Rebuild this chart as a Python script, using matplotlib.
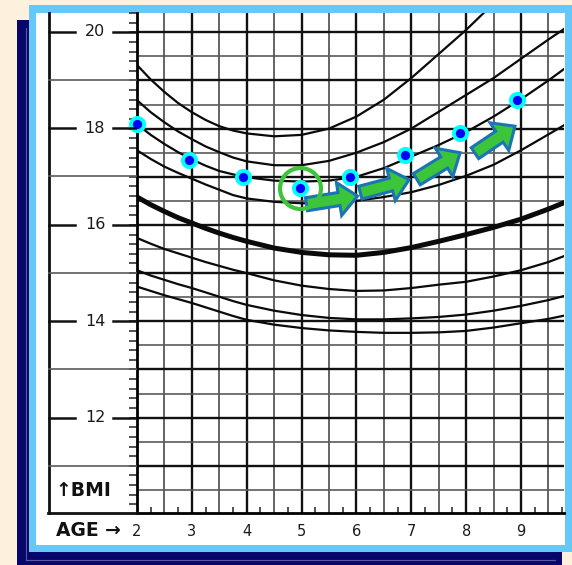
import numpy as np
import matplotlib
matplotlib.use("Agg")
import matplotlib.pyplot as plt
from matplotlib.patches import Rectangle
from matplotlib.lines import Line2D

# ---------------- data ----------------
curve_ages = [2.0, 2.25, 2.5, 2.75, 3.0, 3.25, 3.5, 3.75, 4.0, 4.5, 5.0, 5.5, 6.0, 6.5,
              7.0, 7.5, 8.0, 8.5, 9.0, 9.5, 9.8]
curve_top  = [19.32, 19.02, 18.76, 18.53, 18.34, 18.18, 18.05, 17.96, 17.90, 17.84, 17.87, 18.00, 18.25, 18.60,
              19.05, 19.55, 20.05, 20.60, 21.20, 21.80, 22.20]
curve_2    = [18.59, 18.34, 18.13, 17.94, 17.78, 17.63, 17.51, 17.40, 17.32, 17.24, 17.24, 17.33, 17.50, 17.72,
              18.00, 18.35, 18.70, 19.05, 19.45, 19.85, 20.08]
curve_3    = [18.09, 17.87, 17.68, 17.51, 17.36, 17.23, 17.12, 17.05, 16.99, 16.92, 16.90, 16.92, 17.00, 17.18,
              17.42, 17.66, 17.93, 18.25, 18.61, 19.00, 19.25]
curve_4    = [17.55, 17.37, 17.21, 17.08, 16.96, 16.84, 16.73, 16.62, 16.55, 16.48, 16.45, 16.45, 16.50, 16.58,
              16.68, 16.83, 17.02, 17.25, 17.55, 17.88, 18.08]
curve_mid  = [16.58, 16.42, 16.28, 16.15, 16.04, 15.93, 15.83, 15.74, 15.66, 15.52, 15.43, 15.38, 15.37, 15.43,
              15.53, 15.66, 15.80, 15.95, 16.12, 16.33, 16.47]
curve_a    = [15.73, 15.61, 15.50, 15.41, 15.32, 15.23, 15.15, 15.07, 15.00, 14.85, 14.74, 14.67, 14.63, 14.64,
              14.69, 14.76, 14.82, 14.93, 15.06, 15.23, 15.36]
curve_b    = [15.06, 14.95, 14.86, 14.77, 14.69, 14.60, 14.51, 14.42, 14.34, 14.22, 14.13, 14.07, 14.04, 14.04,
              14.06, 14.09, 14.14, 14.22, 14.32, 14.44, 14.53]
curve_c    = [14.72, 14.63, 14.54, 14.46, 14.38, 14.29, 14.20, 14.11, 14.03, 13.93, 13.86, 13.81, 13.78, 13.76,
              13.76, 13.77, 13.80, 13.87, 13.96, 14.05, 14.12]

point_age = [2.0, 2.95, 3.93, 4.98, 5.88, 6.88, 7.89, 8.92]
point_bmi = [18.09, 17.34, 16.99, 16.76, 16.99, 17.45, 17.90, 18.59]
highlight_index = 3

arrow_tail_age = [5.09, 6.07, 7.10, 8.16]
arrow_tail_bmi = [16.43, 16.67, 16.95, 17.49]
arrow_tip_age  = [6.02, 6.96, 7.89, 8.89]
arrow_tip_bmi  = [16.60, 16.94, 17.50, 18.05]

x_ticks = [2, 3, 4, 5, 6, 7, 8, 9]
x_tick_labels = ["2", "3", "4", "5", "6", "7", "8", "9"]
y_labels_vals = [12, 14, 16, 18, 20]
y_labels_text = ["12", "14", "16", "18", "20"]

# ---------------- figure ----------------
W, H = 572, 565
fig = plt.figure(figsize=(W / 100, H / 100), dpi=100)
fig.patch.set_facecolor("#FDF0DC")

def rect(x0, y0, x1, y1, color, z):
    fig.add_artist(Rectangle((x0 / W, 1 - y1 / H), (x1 - x0) / W, (y1 - y0) / H,
                             transform=fig.transFigure, facecolor=color,
                             edgecolor="none", zorder=z))

rect(17, 20, 562, 570, "#07076B", 0)
fig.add_artist(Line2D([25.5 / W, 25.5 / W], [1 - 28 / H, 1 - 560 / H],
                      transform=fig.transFigure, color="#5A5A9A", lw=0.8, zorder=0.5))
fig.add_artist(Line2D([25.5 / W, 555 / W], [1 - 560 / H, 1 - 560 / H],
                      transform=fig.transFigure, color="#5A5A9A", lw=0.8, zorder=0.5))
rect(29, 5, 580, 552, "#66C8F8", 1)
rect(36, 13, 565, 545, "#FFFFFF", 2)

# main plot axes
px_left, px_right, px_top, px_bot = 137, 564, 13, 513
ax = fig.add_axes([px_left / W, 1 - px_bot / H, (px_right - px_left) / W, (px_bot - px_top) / H])
ax.set_zorder(3)
ax.patch.set_alpha(0)
ax.set_xlim(2.0, 2.0 + (px_right - px_left) / 54.86)
ax.set_ylim(10.02, 20.39)

# grid
for v in np.arange(2.5, 9.8, 0.5):
    if abs(v - round(v)) < 1e-6:
        ax.axvline(v, color="#111111", lw=1.7, zorder=1)
    else:
        ax.axvline(v, color="#4A4A4A", lw=1.2, zorder=1)
for v in np.arange(10.5, 20.4, 0.5):
    if abs(v - round(v)) < 1e-6:
        ax.axhline(v, color="#111111", lw=1.7, zorder=1)
    else:
        ax.axhline(v, color="#5A5A5A", lw=1.2, zorder=1)

for s in ["top", "right"]:
    ax.spines[s].set_visible(False)
ax.spines["left"].set_linewidth(2.0)
ax.spines["bottom"].set_linewidth(2.0)

# curves
for c in [curve_top, curve_2, curve_3, curve_4, curve_a, curve_b, curve_c]:
    ax.plot(curve_ages, c, color="#0A0A0A", lw=1.6, zorder=2, solid_joinstyle="round")
ax.plot(curve_ages, curve_mid, color="#0A0A0A", lw=3.6, zorder=2, solid_joinstyle="round")

# ticks
ax.set_xticks(x_ticks)
ax.set_xticklabels(x_tick_labels, fontsize=10.5, family="DejaVu Sans", color="#1A1A1A")
ax.tick_params(axis="x", which="major", length=0, pad=8)
ax.set_xticks(np.arange(2.25, 9.8, 0.5), minor=True)
ax.tick_params(axis="x", which="minor", direction="in", length=4.5, width=1.1, color="#222222")
ax.set_yticks([])
ax.set_yticks(np.arange(10.2, 20.41, 0.2), minor=True)
ax.tick_params(axis="y", which="minor", direction="out", length=6, width=1.1, color="#222222")

# points
ax.plot(point_age, point_bmi, linestyle="none", marker="o", markersize=9.5,
        markerfacecolor="#0000FF", markeredgecolor="#00FFFF", markeredgewidth=2.8,
        zorder=6, clip_on=False)
ax.plot([point_age[highlight_index]], [point_bmi[highlight_index]], linestyle="none",
        marker="o", markersize=29.5, markerfacecolor="none", markeredgecolor="#3CC43A",
        markeredgewidth=3.0, zorder=5)

# arrows
for ta, tb, ha_, hb in zip(arrow_tail_age, arrow_tail_bmi, arrow_tip_age, arrow_tip_bmi):
    ax.annotate("", xy=(ha_, hb), xytext=(ta, tb),
                arrowprops=dict(arrowstyle="simple,head_length=1.35,head_width=2.4,tail_width=0.95",
                                facecolor="#3CC43A", edgecolor="#1B75B5", lw=2.2,
                                shrinkA=0, shrinkB=0, mutation_scale=10, joinstyle="miter"),
                zorder=4)

# label column axes
lab = fig.add_axes([48 / W, 1 - px_bot / H, (px_left - 48) / W, (px_bot - px_top) / H])
lab.set_zorder(3)
lab.patch.set_alpha(0)
lab.set_xlim(48, 137)
lab.set_ylim(10.02, 20.39)
lab.axis("off")
lab.plot([48.5, 48.5], [10.02, 20.39], color="#111111", lw=2.0, clip_on=False)
lab.plot([48, 137], [10.02, 10.02], color="#111111", lw=2.0, clip_on=False)
for v in [11, 13, 15, 17, 19]:
    lab.plot([48, 137], [v, v], color="#5A5A5A", lw=1.2)
for v, t in zip(y_labels_vals, y_labels_text):
    lab.plot([48, 75], [v, v], color="#111111", lw=1.8)
    lab.plot([113, 137], [v, v], color="#111111", lw=1.8)
    lab.text(95, v, t, ha="center", va="center", fontsize=11.5,
             family="DejaVu Sans", color="#1A1A1A")

fig.text(55 / W, 1 - 490 / H, "↑BMI", ha="left", va="center", fontsize=13.5,
         fontweight="bold", family="DejaVu Sans", color="#111111", zorder=10)
fig.text(56 / W, 1 - 530 / H, "AGE →", ha="left", va="center", fontsize=13.5,
         fontweight="bold", family="DejaVu Sans", color="#111111", zorder=10)

fig.savefig("out.png", dpi=100, facecolor=fig.get_facecolor())
